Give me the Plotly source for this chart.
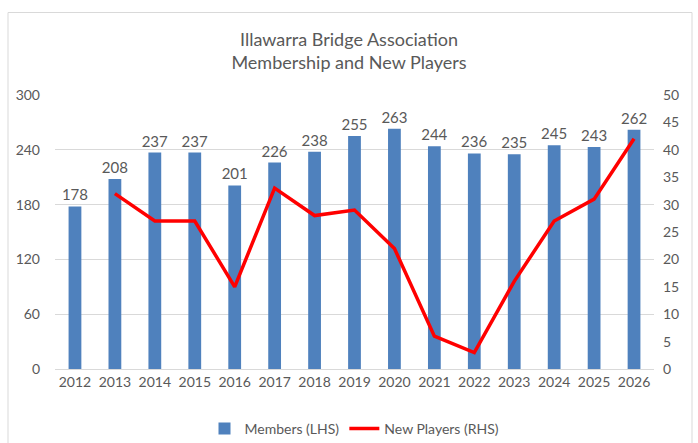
import plotly.graph_objects as go

years = [str(y) for y in range(2012, 2027)]
members = [178, 208, 237, 237, 201, 226, 238, 255, 263, 244, 236, 235, 245, 243, 262]
new_years = [str(y) for y in range(2013, 2027)]
new_players = [32, 27, 27, 15, 33, 28, 29, 22, 6, 3, 16, 27, 31, 42]

left_ticks = [0, 60, 120, 180, 240, 300]
right_ticks = list(range(0, 55, 5))

FONT = "Lato"
GRAY = "#595959"

fig = go.Figure()
fig.add_trace(go.Bar(
    x=years, y=members, name="Members (LHS)",
    marker=dict(color="#4F81BD", line=dict(width=0)),
    width=0.32,
    text=[str(v) for v in members], textposition="outside",
    constraintext="none",
    textfont=dict(family=FONT, size=15, color=GRAY),
    cliponaxis=False,
))
fig.add_trace(go.Scatter(
    x=new_years, y=new_players, name="New Players (RHS)",
    mode="lines", line=dict(color="#FF0000", width=3.5),
    yaxis="y2",
))

fig.update_layout(
    width=698, height=443,
    margin=dict(l=55, r=44, t=95, b=74, autoexpand=False),
    paper_bgcolor="white", plot_bgcolor="white",
    font=dict(family=FONT, size=14, color=GRAY),
    title=dict(
        text="Illawarra Bridge Association<br>Membership and New Players",
        x=0.5, xanchor="center", y=0.897, yanchor="top",
        font=dict(family=FONT, size=18, color=GRAY),
    ),
    xaxis=dict(
        type="category", showgrid=False, showline=True,
        linecolor="#D9D9D9", linewidth=1, ticks="",
        tickfont=dict(family=FONT, size=14, color=GRAY),
        range=[-0.5, 14.5],
    ),
    yaxis=dict(
        range=[0, 300], tickvals=left_ticks, showgrid=True,
        gridcolor="#D9D9D9", gridwidth=1, zeroline=False,
        showline=False, ticks="", ticklabelstandoff=14,
        tickfont=dict(family=FONT, size=14, color=GRAY),
    ),
    yaxis2=dict(
        range=[0, 50], tickvals=right_ticks, overlaying="y",
        side="right", showgrid=False, zeroline=False, showline=False,
        ticks="", ticklabelstandoff=8,
        tickfont=dict(family=FONT, size=14, color=GRAY),
    ),
    legend=dict(
        orientation="h", x=0.5, xanchor="center", y=-0.16, yanchor="top",
        font=dict(family=FONT, size=14, color=GRAY),
    ),
    bargap=0.68,
    shapes=[dict(
        type="rect", xref="paper", yref="paper",
        x0=(8 - 55) / 599, x1=(692 - 55) / 599,
        y0=(369 - 460) / 274, y1=(369 - 12.5) / 274,
        line=dict(color="#D9D9D9", width=1), fillcolor="rgba(0,0,0,0)",
        layer="below",
    )],
)

fig.write_html(
    "out.html",
    config={"displayModeBar": False},
    post_script="document.body.style.margin='0';document.body.style.overflow='hidden';",
)
